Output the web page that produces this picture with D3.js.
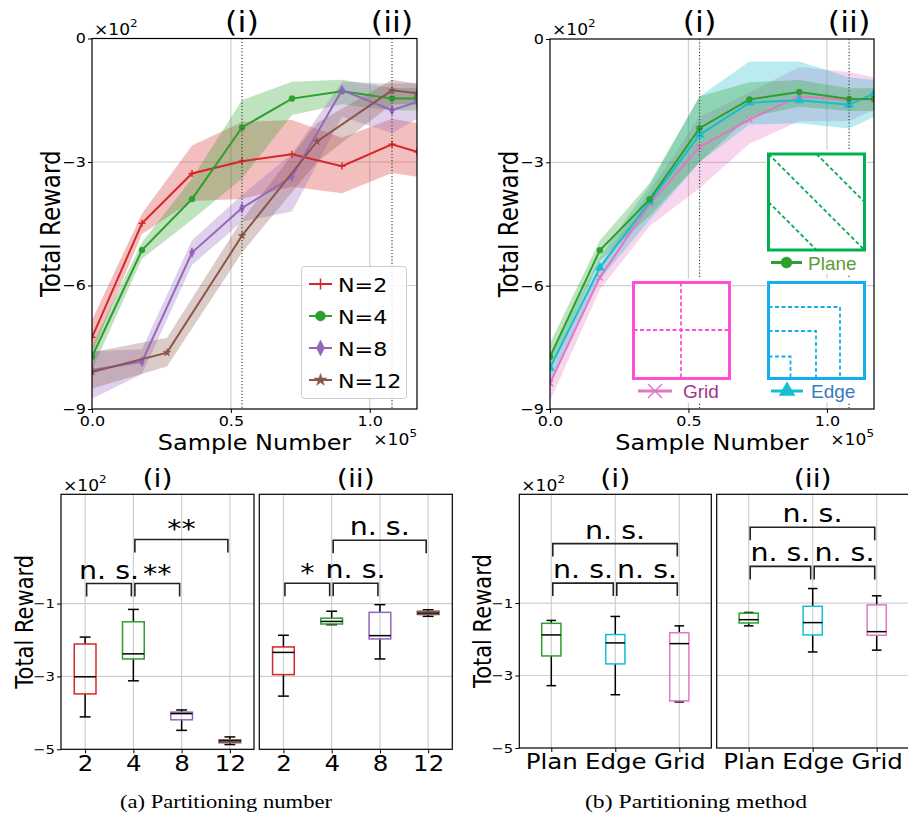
<!DOCTYPE html>
<html>
<head>
<meta charset="utf-8">
<script src="https://cdn.jsdelivr.net/npm/d3@7"></script>
<style>
  body { margin: 0; background: #fff; }
  svg { display: block; font-family: "DejaVu Sans", sans-serif; }
</style>
</head>
<body>
<svg id="fig" width="908" height="820"></svg>
<script>
// ---- data: learning curves (x in 1e5 samples, reward in 1e2) ----
const sampleX = [0, 0.18, 0.36, 0.54, 0.72, 0.90, 1.08, 1.17];
const sampleX12 = [0, 0.27, 0.54, 0.81, 1.08, 1.17];
const xTicks = [0, 0.5, 1.0];
const yTicks = [0, -3, -6, -9];
const markLines = [0.54, 1.08];
const markLabels = ["(i)", "(ii)"];

const n2Mean = [-7.26, -4.49, -3.28, -2.98, -2.81, -3.10, -2.57, -2.75];
const n2Low  = [-7.65, -4.75, -3.95, -3.90, -3.60, -3.76, -3.27, -3.36];
const n2High = [-6.84, -4.25, -2.60, -2.03, -1.98, -2.41, -1.95, -2.05];

const n4Mean = [-7.73, -5.14, -3.90, -2.16, -1.46, -1.28, -1.46, -1.46];
const n4Low  = [-8.05, -5.35, -4.40, -3.40, -1.86, -1.60, -1.75, -1.75];
const n4High = [-7.45, -4.95, -3.40, -1.50, -1.05, -1.00, -1.20, -1.20];

const n8Mean = [-8.05, -7.85, -5.20, -4.12, -3.36, -1.25, -1.74, -1.54];
const n8Low  = [-8.75, -8.15, -5.50, -4.45, -4.20, -1.90, -2.30, -1.95];
const n8High = [-7.60, -7.55, -4.90, -3.80, -2.80, -1.05, -1.10, -1.08];

const n12Mean = [-8.10, -7.63, -4.79, -2.50, -1.26, -1.33];
const n12Low  = [-8.50, -7.97, -5.20, -3.00, -1.60, -1.60];
const n12High = [-7.62, -7.27, -4.40, -2.05, -1.00, -1.10];

const planeMean = [-7.73, -5.14, -3.90, -2.17, -1.47, -1.29, -1.46, -1.46];
const planeLow  = [-8.05, -5.40, -4.30, -3.00, -1.90, -1.65, -1.75, -1.75];
const planeHigh = [-7.40, -4.90, -3.50, -1.40, -1.05, -1.00, -1.20, -1.20];

const edgeMean = [-8.00, -5.56, -3.96, -2.33, -1.55, -1.49, -1.60, -1.33];
const edgeLow  = [-8.30, -5.85, -4.40, -3.00, -2.08, -2.05, -2.18, -1.90];
const edgeHigh = [-7.70, -5.30, -3.55, -1.40, -0.55, -0.55, -0.93, -1.00];

const gridMean = [-8.37, -5.80, -4.02, -2.63, -1.96, -1.39, -1.49, -1.46];
const gridLow  = [-8.80, -6.10, -4.55, -3.63, -2.55, -2.00, -2.00, -1.73];
const gridHigh = [-8.00, -5.50, -3.70, -1.90, -1.30, -0.68, -0.80, -0.93];

// ---- data: box plots [whisker low, q1, median, q3, whisker high] ----
const numCats = ["2", "4", "8", "12"];
const numBoxI = [
  [-4.11, -3.48, -3.01, -2.11, -1.92],
  [-3.12, -2.52, -2.38, -1.50, -1.16],
  [-4.48, -4.19, -4.02, -3.98, -3.92],
  [-4.87, -4.82, -4.77, -4.74, -4.66]
];
const numBoxII = [
  [-3.54, -2.95, -2.34, -2.19, -1.87],
  [-1.58, -1.56, -1.49, -1.40, -1.21],
  [-2.52, -1.97, -1.88, -1.24, -1.03],
  [-1.35, -1.30, -1.26, -1.21, -1.17]
];
const methodCats = ["Plan", "Edge", "Grid"];
const methodBoxI = [
  [-3.28, -2.46, -1.88, -1.56, -1.48],
  [-3.53, -2.68, -2.10, -1.87, -1.37],
  [-3.73, -3.70, -2.12, -1.82, -1.63]
];
const methodBoxII = [
  [-1.63, -1.55, -1.46, -1.28, -1.26],
  [-2.35, -1.88, -1.54, -1.09, -0.60],
  [-2.30, -1.89, -1.79, -1.05, -0.80]
];
// significance brackets: [from, to, level, label]
const numSigI = [[0, 1, -0.45, "n. s."], [1, 2, -0.45, "**"], [1, 3, 0.76, "**"]];
const numSigII = [[0, 1, -0.44, "*"], [1, 2, -0.44, "n. s."], [1, 3, 0.74, "n. s."]];
const methodSigI = [[0, 1, -0.45, "n. s."], [1, 2, -0.45, "n. s."], [0, 2, 0.64, "n. s."]];
const methodSigII = [[0, 1, 0.01, "n. s."], [1, 2, 0.01, "n. s."], [0, 2, 1.09, "n. s."]];
const boxTicks = [-1, -3, -5];

const C = {
  red: "#d62728", green: "#2ca02c", purple: "#9467bd",
  brown: "#8c564b", cyan: "#17becf", pink: "#e377c2"
};

const svg = d3.select("#fig");
const gridColor = "#cfcfcf";
const fmtY = d3.format("d");
const SX = 1.14; // the figure's text is a bit wider than tall

// marker shapes, s = half size
function markerPath(type, s) {
  switch (type) {
    case "plus": return `M${-s},0H${s}M0,${-s}V${s}`;
    case "x": return `M${-s},${-s}L${s},${s}M${-s},${s}L${s},${-s}`;
    case "circle": return d3.symbol(d3.symbolCircle, Math.PI * s * s)();
    case "thin_diamond": return `M0,${-s}L${s * 0.5},0L0,${s}L${-s * 0.5},0Z`;
    case "star": return d3.symbol(d3.symbolStar, s * s * 1.15)();
    case "triangle": return d3.symbol(d3.symbolTriangle, s * s * 1.7)();
  }
}
function drawMarker(g, type, s, color, x, y) {
  const open = type === "plus" || type === "x";
  g.append("path")
    .attr("d", markerPath(type, s))
    .attr("transform", `translate(${x},${y})`)
    .attr("fill", open ? "none" : color)
    .attr("stroke", color)
    .attr("stroke-width", open ? 1.5 : 0.5);
}

function timesTen(parent, x, y, exp, anchor) {
  const t = parent.append("text")
    .attr("x", x).attr("y", y)
    .attr("font-size", 15)
    .attr("text-anchor", anchor || "start");
  t.append("tspan").text("×10");
  t.append("tspan").attr("dy", -8).attr("font-size", 10.5).text(exp);
}

function yLabel(parent, x, y, size) {
  parent.append("text")
    .attr("class", "nostretch")
    .attr("transform", `translate(${x},${y}) scale(${SX},1) rotate(-90)`)
    .attr("text-anchor", "middle").attr("font-size", size)
    .text("Total Reward");
}

// ---- top line charts ----
function lineChart(cfg) {
  const { id, left, top, right, bottom, series } = cfg;
  const x = d3.scaleLinear().domain([0, 1.17]).range([left, right]);
  const y = d3.scaleLinear().domain([-9, 0]).range([bottom, top]);
  const g = svg.append("g");

  svg.append("clipPath").attr("id", id)
    .append("rect")
    .attr("x", left).attr("y", top)
    .attr("width", right - left).attr("height", bottom - top);

  // grid lines
  g.selectAll(".vg").data([0.5, 1.0]).join("line")
    .attr("x1", d => x(d)).attr("x2", d => x(d))
    .attr("y1", top).attr("y2", bottom)
    .attr("stroke", gridColor).attr("stroke-width", 1.2);
  g.selectAll(".hg").data([-3, -6]).join("line")
    .attr("x1", left).attr("x2", right)
    .attr("y1", d => y(d)).attr("y2", d => y(d))
    .attr("stroke", gridColor).attr("stroke-width", 1.2);

  const plot = g.append("g").attr("clip-path", `url(#${id})`);

  // shaded bands first
  series.forEach(s => {
    const pts = s.xs.map((v, i) => ({ x: v, lo: s.low[i], hi: s.high[i] }));
    plot.append("path").datum(pts)
      .attr("d", d3.area().x(d => x(d.x)).y0(d => y(d.lo)).y1(d => y(d.hi)))
      .attr("fill", s.color).attr("fill-opacity", 0.3);
  });

  // mean lines with markers
  series.forEach(s => {
    const pts = s.xs.map((v, i) => ({ x: v, m: s.mean[i] }));
    plot.append("path").datum(pts)
      .attr("d", d3.line().x(d => x(d.x)).y(d => y(d.m)))
      .attr("fill", "none").attr("stroke", s.color).attr("stroke-width", 2);
    pts.forEach(d => drawMarker(plot, s.marker, s.ms, s.color, x(d.x), y(d.m)));
  });

  // dotted markers for the (i) / (ii) snapshots
  markLines.forEach((v, i) => {
    g.append("line")
      .attr("x1", x(v)).attr("x2", x(v))
      .attr("y1", top).attr("y2", bottom)
      .attr("stroke", "#444").attr("stroke-width", 1.2)
      .attr("stroke-dasharray", "1.2,2");
    g.append("text")
      .attr("x", x(v)).attr("y", 32)
      .attr("text-anchor", "middle").attr("font-size", 28)
      .text(markLabels[i]);
  });

  // axes
  g.append("g")
    .attr("transform", `translate(0,${bottom})`)
    .call(d3.axisBottom(x).tickValues(xTicks).tickFormat(d3.format(".1f")).tickSize(4).tickPadding(3))
    .call(a => a.select(".domain").remove())
    .attr("font-size", 14).attr("font-family", null);
  g.append("g")
    .attr("transform", `translate(${left},0)`)
    .call(d3.axisLeft(y).tickValues(yTicks).tickFormat(fmtY).tickSize(4).tickPadding(2))
    .call(a => a.select(".domain").remove())
    .attr("font-size", 14).attr("font-family", null);

  timesTen(g, left + 2, 35, "2");
  timesTen(g, right, 445, "5", "end");

  g.append("text")
    .attr("x", (left + right) / 2).attr("y", 450)
    .attr("text-anchor", "middle").attr("font-size", 21)
    .text("Sample Number");
  yLabel(g, left - 32, (top + bottom) / 2, 23);

  return { g, x, y, spine: () => g.append("rect")
    .attr("x", left).attr("y", top)
    .attr("width", right - left).attr("height", bottom - top)
    .attr("fill", "none").attr("stroke", "#000").attr("stroke-width", 1.2) };
}

// (a) partitioning number
const chartA = lineChart({
  id: "clipA", left: 92, top: 38.5, right: 417, bottom: 409,
  series: [
    { xs: sampleX, mean: n2Mean, low: n2Low, high: n2High, color: C.red, marker: "plus", ms: 3.5 },
    { xs: sampleX, mean: n4Mean, low: n4Low, high: n4High, color: C.green, marker: "circle", ms: 3 },
    { xs: sampleX, mean: n8Mean, low: n8Low, high: n8High, color: C.purple, marker: "thin_diamond", ms: 5 },
    { xs: sampleX12, mean: n12Mean, low: n12Low, high: n12High, color: C.brown, marker: "star", ms: 4 }
  ]
});

// legend
const legend = chartA.g.append("g");
legend.append("rect")
  .attr("x", 301.5).attr("y", 266.5).attr("width", 105).attr("height", 132).attr("rx", 3)
  .attr("fill", "#fff").attr("fill-opacity", 0.85)
  .attr("stroke", "#cccccc");
const legendItems = [
  { label: "N=2", color: C.red, marker: "plus", ms: 5.5 },
  { label: "N=4", color: C.green, marker: "circle", ms: 5 },
  { label: "N=8", color: C.purple, marker: "thin_diamond", ms: 8 },
  { label: "N=12", color: C.brown, marker: "star", ms: 6.5 }
];
legendItems.forEach((d, i) => {
  const ly = 284 + i * 32;
  legend.append("line")
    .attr("x1", 309).attr("x2", 332).attr("y1", ly).attr("y2", ly)
    .attr("stroke", d.color).attr("stroke-width", 2);
  drawMarker(legend, d.marker, d.ms, d.color, 320.5, ly);
  legend.append("text")
    .attr("x", 338).attr("y", ly + 7.5).attr("font-size", 19.5)
    .text(d.label);
});
chartA.spine();

// (b) partitioning method
const chartB = lineChart({
  id: "clipB", left: 550, top: 39, right: 874, bottom: 409,
  series: [
    { xs: sampleX, mean: gridMean, low: gridLow, high: gridHigh, color: C.pink, marker: "x", ms: 3 },
    { xs: sampleX, mean: edgeMean, low: edgeLow, high: edgeHigh, color: C.cyan, marker: "triangle", ms: 4.5 },
    { xs: sampleX, mean: planeMean, low: planeLow, high: planeHigh, color: C.green, marker: "circle", ms: 3 }
  ]
});

// inset pictograms of the three partitioning methods
function inset(g, bx, by, color, drawInner, legendCfg) {
  const s = 96;
  g.append("rect").attr("x", bx - 2.5).attr("y", by - 4).attr("width", s + 5).attr("height", 124)
    .attr("fill", "#fff");
  const dash = (path) => g.append("path").attr("d", path)
    .attr("fill", "none").attr("stroke", color).attr("stroke-width", 1.8)
    .attr("stroke-dasharray", "4,2.5");
  drawInner(dash, bx, by, s);
  g.append("rect").attr("x", bx).attr("y", by).attr("width", s).attr("height", s)
    .attr("fill", "none").attr("stroke", color).attr("stroke-width", 3);
  const ly = by + s + 12.5;
  g.append("line").attr("x1", legendCfg.x1).attr("x2", legendCfg.x2)
    .attr("y1", ly).attr("y2", ly)
    .attr("stroke", legendCfg.color).attr("stroke-width", 3);
  drawMarker(g, legendCfg.marker, legendCfg.ms, legendCfg.color, (legendCfg.x1 + legendCfg.x2) / 2, ly);
  g.append("text")
    .attr("class", "nostretch")
    .attr("x", legendCfg.tx).attr("y", ly + 7)
    .attr("font-family", "Liberation Sans, Arial, sans-serif")
    .attr("font-size", 19).attr("fill", legendCfg.textColor)
    .text(legendCfg.label);
}

const ins = chartB.g.append("g");
inset(ins, 768.5, 154, "#00b050", (dash, x0, y0, s) => {
  const h = s / 2;
  dash(`M${x0},${y0}L${x0 + s},${y0 + s}`);
  dash(`M${x0 + h},${y0}L${x0 + s},${y0 + h}`);
  dash(`M${x0},${y0 + h}L${x0 + h},${y0 + s}`);
}, { x1: 771, x2: 802, color: C.green, marker: "circle", ms: 5.5, tx: 808, textColor: "#5f9a3a", label: "Plane" });

inset(ins, 633.5, 282.5, "#ff4fd8", (dash, x0, y0, s) => {
  dash(`M${x0 + 47.5},${y0}V${y0 + s}`);
  dash(`M${x0},${y0 + 47.5}H${x0 + s}`);
}, { x1: 638, x2: 672, color: C.pink, marker: "x", ms: 7, tx: 683, textColor: "#a3348c", label: "Grid" });

inset(ins, 768.5, 282.5, "#12aff0", (dash, x0, y0, s) => {
  [22, 47.5, 71.5].forEach(o => {
    dash(`M${x0},${y0 + s - o}H${x0 + o}V${y0 + s}`);
  });
}, { x1: 771, x2: 803, color: C.cyan, marker: "triangle", ms: 8, tx: 811, textColor: "#3a78c2", label: "Edge" });
chartB.spine();

// ---- bottom box plots ----
function boxPanel(cfg) {
  const { left, top, bottom, unit, cats, boxes, colors, sig, title, showY } = cfg;
  const n = cats.length;
  const right = left + unit * n;
  const x = d3.scaleLinear().domain([0.5, n + 0.5]).range([left, right]);
  const y = d3.scaleLinear().domain([-5, 2]).range([bottom, top]);
  const g = svg.append("g");
  const bw = (n === 4 ? 0.45 : 0.3) * unit;

  g.selectAll(".vg").data(d3.range(1, n + 1)).join("line")
    .attr("x1", d => x(d)).attr("x2", d => x(d))
    .attr("y1", top).attr("y2", bottom)
    .attr("stroke", gridColor).attr("stroke-width", 1.2);
  g.selectAll(".hg").data([-1, -3]).join("line")
    .attr("x1", left).attr("x2", right)
    .attr("y1", d => y(d)).attr("y2", d => y(d))
    .attr("stroke", gridColor).attr("stroke-width", 1.2);

  boxes.forEach((b, i) => {
    const cx = x(i + 1);
    const [wl, q1, med, q3, wh] = b;
    const bx = g.append("g");
    bx.append("line").attr("x1", cx).attr("x2", cx).attr("y1", y(q3)).attr("y2", y(wh))
      .attr("stroke", "#000").attr("stroke-width", 1.5);
    bx.append("line").attr("x1", cx).attr("x2", cx).attr("y1", y(q1)).attr("y2", y(wl))
      .attr("stroke", "#000").attr("stroke-width", 1.5);
    [wl, wh].forEach(v => bx.append("line")
      .attr("x1", cx - bw / 4).attr("x2", cx + bw / 4)
      .attr("y1", y(v)).attr("y2", y(v))
      .attr("stroke", "#000").attr("stroke-width", 1.5));
    bx.append("rect")
      .attr("x", cx - bw / 2).attr("y", y(q3))
      .attr("width", bw).attr("height", y(q1) - y(q3))
      .attr("fill", "none").attr("stroke", colors[i]).attr("stroke-width", 1.5);
    bx.append("line")
      .attr("x1", cx - bw / 2).attr("x2", cx + bw / 2)
      .attr("y1", y(med)).attr("y2", y(med))
      .attr("stroke", "#000").attr("stroke-width", 1.5);
  });

  // significance brackets
  sig.forEach(([a, b, level, label]) => {
    const x1 = x(a + 1) + 1.5, x2 = x(b + 1) - 2, yb = y(level);
    g.append("path")
      .attr("d", `M${x1},${yb + 13}V${yb}H${x2}V${yb + 13}`)
      .attr("fill", "none").attr("stroke", "#222").attr("stroke-width", 1.6);
    g.append("text")
      .attr("x", (x1 + x2) / 2).attr("y", label.includes("*") ? yb - 2 : yb - 5)
      .attr("text-anchor", "middle").attr("font-size", 25)
      .text(label);
  });

  g.append("g")
    .attr("transform", `translate(0,${bottom})`)
    .call(d3.axisBottom(x).tickValues(d3.range(1, n + 1)).tickFormat(d => cats[d - 1]).tickSize(4).tickPadding(2))
    .call(a => a.select(".domain").remove())
    .attr("font-size", 21.5).attr("font-family", null);

  if (showY) {
    g.append("g")
      .attr("transform", `translate(${left},0)`)
      .call(d3.axisLeft(y).tickValues(boxTicks).tickFormat(fmtY).tickSize(4).tickPadding(2))
      .call(a => a.select(".domain").remove())
      .attr("font-size", 13).attr("font-family", null);
    timesTen(g, left + 2, top - 3, "2");
    yLabel(g, left - 28, (top + bottom) / 2, 21);
  }

  g.append("text")
    .attr("x", (left + right) / 2).attr("y", top - 7)
    .attr("text-anchor", "middle").attr("font-size", 25)
    .text(title);

  g.append("rect")
    .attr("x", left).attr("y", top)
    .attr("width", right - left).attr("height", bottom - top)
    .attr("fill", "none").attr("stroke", "#000").attr("stroke-width", 1.2);
}

const numColors = [C.red, C.green, C.purple, C.brown];
const methodColors = [C.green, C.cyan, C.pink];

boxPanel({ left: 61, top: 494.3, bottom: 749.3, unit: 48.25, cats: numCats, boxes: numBoxI, colors: numColors, sig: numSigI, title: "(i)", showY: true });
boxPanel({ left: 259.3, top: 494.3, bottom: 749.3, unit: 48.25, cats: numCats, boxes: numBoxII, colors: numColors, sig: numSigII, title: "(ii)", showY: false });
boxPanel({ left: 519.3, top: 494.3, bottom: 748, unit: 64, cats: methodCats, boxes: methodBoxI, colors: methodColors, sig: methodSigI, title: "(i)", showY: true });
boxPanel({ left: 716.7, top: 494.3, bottom: 748, unit: 64, cats: methodCats, boxes: methodBoxII, colors: methodColors, sig: methodSigII, title: "(ii)", showY: false });

// widen the plain text a little, about its own anchor point
svg.selectAll("text").filter(function() { return !this.classList.contains("nostretch"); })
  .each(function() {
    const t = d3.select(this);
    const x = +t.attr("x") || 0, y = +t.attr("y") || 0;
    t.attr("x", 0).attr("y", 0).attr("transform", `translate(${x},${y}) scale(${SX},1)`);
  });

// captions
[["(a) Partitioning number", 226, 212], ["(b) Partitioning method", 696, 222]].forEach(([t, cx, w]) => {
  svg.append("text")
    .attr("x", cx).attr("y", 808)
    .attr("text-anchor", "middle")
    .attr("font-family", "Liberation Serif, serif")
    .attr("font-size", 19)
    .attr("textLength", w).attr("lengthAdjust", "spacingAndGlyphs")
    .text(t);
});
</script>
</body>
</html>
